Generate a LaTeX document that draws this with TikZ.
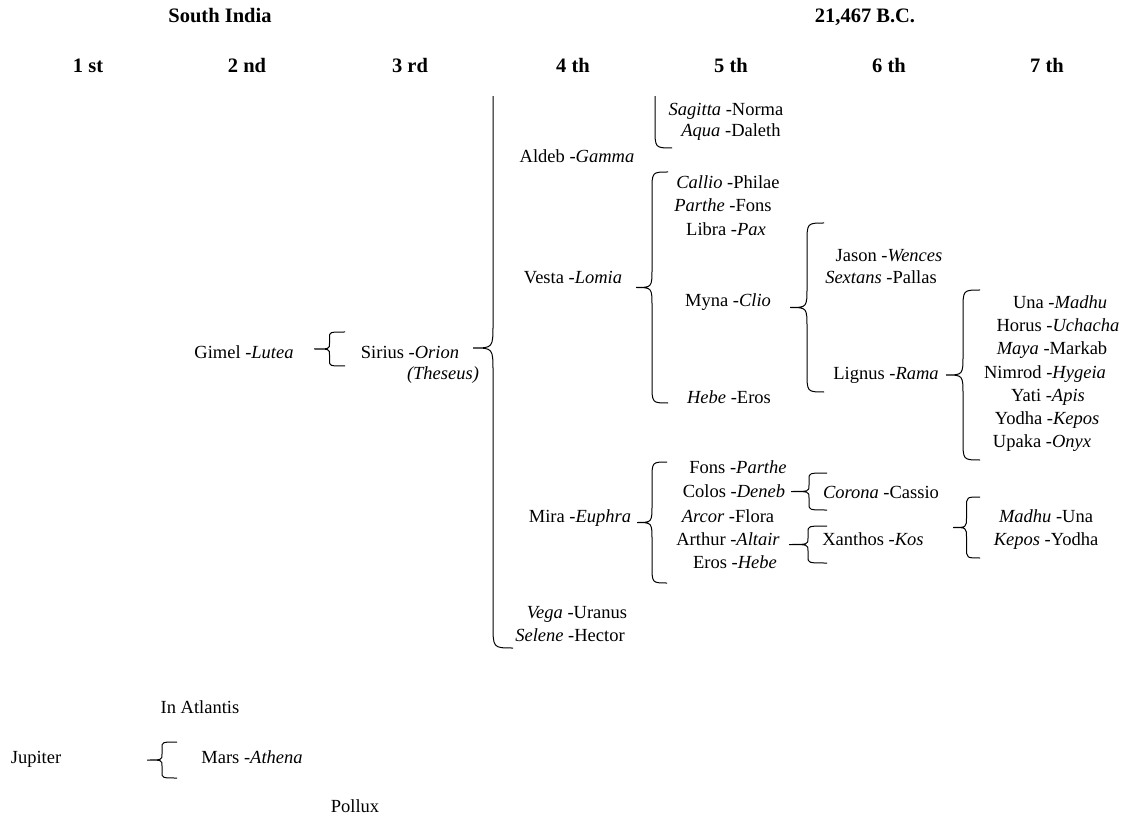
\documentclass[tikz,border=0pt]{standalone}
\usepackage{fontspec}
\setmainfont{Liberation Serif}
\usetikzlibrary{calc}
\tikzset{lbl/.style = {inner sep=0, anchor=mid, yshift=-4pt, font=\fontsize{18.5}{22}\selectfont}}
\tikzset{hdr/.style = {inner sep=0, anchor=base, font=\fontsize{20.5}{24}\selectfont\bfseries}}
\tikzset{grp/.style = {line width=1pt, to path={let \p1=(\tikztostart), \p2=(\tikztotarget),
    \p3=($(\tikztostart)!0.5!(\tikztotarget)$), \n1={#1/2}, \n2={min(0.6*#1,abs(\y2-\y1)/6)} in
    .. controls ({\x1-\n1},\y1) .. ({\x1-\n1},{\y1+\n2})
    -- ({\x1-\n1},{\y3-\n2}) .. controls ({\x1-\n1},\y3) .. ({\x1-#1},\y3)
    .. controls ({\x1-\n1},\y3) .. ({\x1-\n1},{\y3+\n2})
    -- ({\x1-\n1},{\y2-\n2}) .. controls ({\x1-\n1},\y2) .. (\tikztotarget)}}}
\begin{document}
\begin{tikzpicture}[x=1pt, y=-1pt]
        \useasboundingbox (0,0) rectangle (1133,818);
        % headings
        \node[hdr] (place) at (220,23) {South India};
        \node[hdr] (date) at (865,23) {21,467 B.C.};
        \node[hdr] (r1) at (88,73) {1 st};
        \node[hdr] (r2) at (247,73) {2 nd};
        \node[hdr] (r3) at (410,73) {3 rd};
        \node[hdr] (r4) at (573,73) {4 th};
        \node[hdr] (r5) at (731,73) {5 th};
        \node[hdr] (r6) at (889,73) {6 th};
        \node[hdr] (r7) at (1047,73) {7 th};
        % 2nd and 3rd
        \node[lbl] (gimel) at (244,352) {Gimel -\textit{Lutea}};
        \node[lbl] (sirius) at (410,352) {Sirius -\textit{Orion}};
        \node[lbl] (theseus) at (443,373) {\textit{(Theseus)}};
        % 4th
        \node[lbl] (aldeb) at (577,156) {Aldeb -\textit{Gamma}};
        \node[lbl] (vesta) at (573,277) {Vesta -\textit{Lomia}};
        \node[lbl] (mira) at (580,516) {Mira -\textit{Euphra}};
        \node[lbl] (vega) at (577,612) {\textit{Vega} -Uranus};
        \node[lbl] (selene) at (570,635) {\textit{Selene} -Hector};
        % 5th
        \node[lbl] (sagitta) at (726,109) {\textit{Sagitta} -Norma};
        \node[lbl] (aqua) at (731,130) {\textit{Aqua} -Daleth};
        \node[lbl] (callio) at (728,182) {\textit{Callio} -Philae};
        \node[lbl] (parthe) at (723,205) {\textit{Parthe} -Fons};
        \node[lbl] (libra) at (726,229) {Libra -\textit{Pax}};
        \node[lbl] (myna) at (728,300) {Myna -\textit{Clio}};
        \node[lbl] (hebe) at (729,397) {\textit{Hebe} -Eros};
        \node[lbl] (fons) at (738,467) {Fons -\textit{Parthe}};
        \node[lbl] (colos) at (734,491) {Colos -\textit{Deneb}};
        \node[lbl] (arcor) at (728,516) {\textit{Arcor} -Flora};
        \node[lbl] (arthur) at (728,539) {Arthur -\textit{Altair}};
        \node[lbl] (eros) at (735,562) {Eros -\textit{Hebe}};
        % 6th
        \node[lbl] (jason) at (889,255) {Jason -\textit{Wences}};
        \node[lbl] (sextans) at (881,277) {\textit{Sextans} -Pallas};
        \node[lbl] (lignus) at (886,373) {Lignus -\textit{Rama}};
        \node[lbl] (corona) at (881,492) {\textit{Corona} -Cassio};
        \node[lbl] (xanthos) at (873,539) {Xanthos -\textit{Kos}};
        % 7th
        \node[lbl] (una) at (1060,302) {Una -\textit{Madhu}};
        \node[lbl] (horus) at (1058,325) {Horus -\textit{Uchacha}};
        \node[lbl] (maya) at (1052,348) {\textit{Maya} -Markab};
        \node[lbl] (nimrod) at (1045,372) {Nimrod -\textit{Hygeia}};
        \node[lbl] (yati) at (1048,395) {Yati -\textit{Apis}};
        \node[lbl] (yodha) at (1047,418) {Yodha -\textit{Kepos}};
        \node[lbl] (upaka) at (1042,441) {Upaka -\textit{Onyx}};
        \node[lbl] (madhu) at (1046,516) {\textit{Madhu} -Una};
        \node[lbl] (kepos) at (1046,539) {\textit{Kepos} -Yodha};
        % Atlantis
        \node[lbl] (atlantis) at (200,707) {In Atlantis};
        \node[lbl] (jupiter) at (36,757) {Jupiter};
        \node[lbl] (mars) at (252,757) {Mars -\textit{Athena}};
        \node[lbl] (pollux) at (355,806) {Pollux};
        % brace ends
        \coordinate (gimelT) at (345,332);
        \coordinate (gimelB) at (345,366);
        \coordinate (siriusT) at (513,48);
        \coordinate (siriusB) at (513,648);
        \coordinate (aldebT) at (672,0);
        \coordinate (aldebB) at (672,148);
        \coordinate (vestaT) at (668,172);
        \coordinate (vestaB) at (668,403);
        \coordinate (mynaT) at (824,223);
        \coordinate (mynaB) at (824,392);
        \coordinate (lignusT) at (980,290);
        \coordinate (lignusB) at (980,460);
        \coordinate (miraT) at (667,462);
        \coordinate (miraB) at (667,583);
        \coordinate (colosT) at (827,473);
        \coordinate (colosB) at (827,510);
        \coordinate (arthurT) at (827,526);
        \coordinate (arthurB) at (827,563);
        \coordinate (xanthosT) at (980,497);
        \coordinate (xanthosB) at (980,558);
        \coordinate (jupiterT) at (177,742);
        \coordinate (jupiterB) at (177,778);
        % braces
        \begin{scope}
            \clip (0,97) rectangle (1133,818);
            \draw[grp=40] (siriusB) to (siriusT);
            \draw[grp=34] (aldebB) to (aldebT);
        \end{scope}
        \draw[grp=31] (gimelB) to (gimelT);
        \draw[grp=32] (vestaB) to (vestaT);
        \draw[grp=34] (mynaB) to (mynaT);
        \draw[grp=34] (lignusB) to (lignusT);
        \draw[grp=30] (miraB) to (miraT);
        \draw[grp=36] (colosB) to (colosT);
        \draw[grp=38] (arthurB) to (arthurT);
        \draw[grp=27] (xanthosB) to (xanthosT);
        \draw[grp=30] (jupiterB) to (jupiterT);
    \end{tikzpicture}
\end{document}
